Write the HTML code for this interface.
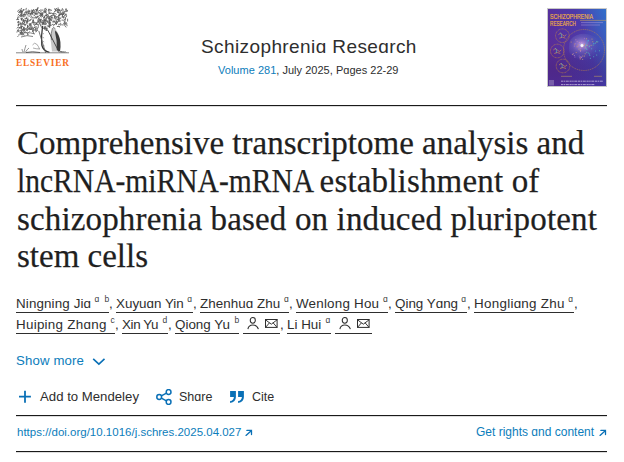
<!DOCTYPE html>
<html><head><meta charset="utf-8">
<style>
html,body{margin:0;padding:0;background:#fff;width:624px;height:462px;overflow:hidden;position:relative}
body{font-family:"Liberation Sans",sans-serif;color:#2e2e2e}
.a{position:absolute;white-space:nowrap;line-height:1}
.rule{position:absolute;left:16px;width:591px;height:1px;background:#1a1a1a;box-shadow:0 0.5px 0 rgba(26,26,26,.3)}
.t{position:absolute;left:17px;font-family:"Liberation Serif",serif;font-size:33px;line-height:1;color:#1f1f1f;white-space:nowrap;-webkit-text-stroke:0.25px #1f1f1f}
.ul{position:absolute;height:1px;background:#2e2e2e}
</style></head><body>
<svg class="a" style="left:14px;top:5px" width="58" height="52" viewBox="14 5 58 52"><path d="M40.1 23.7l0.6 2.0 M26.7 30.5l0.4 -1.4 M57.4 10.6l1.2 0.0 M49.4 24.7l0.4 1.3 M50.4 25.2l1.0 0.0 M59.4 9.8l0.7 0.5 M33.6 24.5l0.9 0.6 M49.7 22.0l0.5 1.7 M50.4 19.4l-1.2 1.1 M21.2 15.1l0.5 -1.8 M31.7 10.0l0.5 1.8 M22.5 16.1l0.9 0.0 M27.7 33.5l0.0 1.5 M37.3 10.0l-1.2 1.1 M51.4 17.4l1.2 0.0 M23.0 14.9l0.9 0.0 M40.7 21.6l1.4 1.0 M39.8 13.3l1.5 1.0 M38.4 18.7l1.1 0.8 M17.0 32.2l0.6 -2.1 M27.7 19.0l0.0 2.0 M46.4 9.2l0.3 1.0 M30.2 29.6l1.0 -0.7 M36.7 10.1l0.0 1.1 M29.4 24.8l0.4 1.3 M23.5 24.4l1.6 1.1 M61.2 13.1l0.8 0.6 M58.7 15.0l0.0 1.1 M49.1 23.5l0.5 1.7 M62.0 24.9l1.4 0.0 M22.6 22.3l0.0 1.2 M52.9 15.2l0.5 -1.9 M42.0 22.6l2.1 0.0 M23.4 21.4l0.5 -1.7 M48.3 15.8l1.7 1.2 M55.2 9.9l1.1 0.8 M20.1 12.9l0.4 -1.3 M66.6 10.6l0.3 1.0 M52.3 24.4l1.0 0.0 M64.1 21.3l1.1 -0.7 M66.1 8.6l0.5 1.6 M20.4 16.7l1.0 0.0 M20.8 23.3l0.0 1.8 M54.6 11.6l1.8 -1.2 M34.9 27.2l-1.5 1.4 M18.5 22.0l0.0 0.8 M36.5 24.3l1.7 0.0 M21.6 11.2l0.3 1.1 M54.1 18.9l0.5 -1.8 M40.3 21.0l0.4 -1.5 M47.7 21.5l0.0 1.1 M22.8 29.8l0.5 1.7 M32.4 27.0l0.9 0.6 M55.4 17.6l0.6 2.0 M62.5 17.2l1.4 1.0 M55.5 13.6l0.9 0.6 M46.7 16.9l0.3 1.0 M19.1 9.8l-1.6 1.5 M25.6 20.6l1.0 0.7 M59.4 18.7l0.0 1.5 M33.1 31.5l0.6 2.1 M33.3 31.2l0.3 -1.1 M19.1 27.8l1.3 -0.9 M50.1 23.8l0.5 1.6 M59.3 14.6l1.0 0.0 M67.2 11.2l0.3 -0.9 M27.2 21.3l1.1 0.0 M55.5 23.0l0.7 0.5 M30.9 17.7l0.5 -1.7 M25.1 31.8l1.5 1.0 M21.4 34.1l1.5 1.0 M40.0 13.5l2.0 0.0 M36.2 23.9l-1.5 1.4 M58.8 17.6l1.0 0.7 M22.0 32.3l0.0 1.9 M23.3 14.8l1.3 0.0 M57.3 17.0l-1.5 1.4 M17.8 22.1l0.7 -0.5 M58.3 9.8l1.6 1.1 M44.2 27.2l0.6 2.0 M24.6 22.5l-1.3 1.2 M51.6 20.3l0.5 -2.0 M65.4 10.4l0.3 -1.1 M45.6 12.6l0.4 -1.5 M30.1 26.8l-1.6 1.4 M62.9 13.8l0.5 -1.9 M43.7 24.0l0.3 -1.0 M36.2 23.1l0.2 0.8 M23.2 10.6l0.3 -1.0 M57.8 19.3l0.3 1.1 M23.5 20.1l0.5 1.9 M43.8 11.0l1.4 0.0 M64.2 11.6l1.9 0.0 M18.8 12.4l0.7 -0.5 M33.4 17.9l1.7 0.0 M42.5 24.3l0.5 -1.9 M29.8 13.5l0.4 1.5 M18.2 25.7l0.5 -1.9 M25.1 13.7l0.0 1.7 M28.1 14.1l0.4 -1.5 M60.7 14.5l-1.4 1.2 M34.7 13.1l1.4 0.9 M62.3 11.8l0.0 1.1 M21.5 18.9l0.4 1.4 M44.7 27.7l0.0 1.1 M27.2 27.1l1.7 -1.2 M22.9 22.2l0.5 -1.8 M57.9 21.5l-0.6 0.6 M45.1 22.4l1.3 0.9 M26.7 11.2l0.9 0.6 M21.9 9.7l0.6 2.1 M21.0 10.7l0.4 1.3 M43.3 20.0l1.6 0.0 M49.3 9.1l0.3 1.0 M37.7 13.5l0.3 -1.0 M57.4 17.1l-0.7 0.6 M49.1 19.3l0.4 -1.6 M46.8 17.5l1.5 -1.1 M37.7 28.2l0.7 -0.5 M32.4 10.8l0.0 2.0 M63.0 9.4l0.0 1.2 M32.2 14.0l1.1 0.8 M44.2 18.9l0.0 2.2 M27.9 11.3l0.4 -1.3 M18.2 25.2l1.5 -1.0 M39.6 22.1l0.0 1.9 M36.2 10.8l1.0 -0.7 M45.1 22.2l0.6 -2.1 M60.2 10.8l0.0 1.4 M20.9 24.7l1.9 0.0 M60.6 23.2l0.4 1.6 M65.2 19.8l0.4 -1.5 M32.9 22.9l1.2 -0.8 M45.6 15.9l1.5 -1.0 M18.4 29.6l0.0 1.6 M25.0 29.1l1.1 -0.8 M55.2 9.4l1.8 -1.2 M20.7 33.4l0.4 1.4 M29.8 29.2l0.9 0.0 M58.7 24.9l0.3 -0.9 M38.3 11.3l1.7 -1.1 M43.9 11.5l0.0 1.4 M38.3 24.8l0.0 1.7 M29.2 11.2l-1.5 1.4 M31.0 25.1l0.0 1.8 M47.2 25.7l1.5 1.0 M65.5 22.1l1.4 1.0 M61.8 9.1l0.7 -0.5 M18.9 14.2l-0.9 0.8 M21.4 26.9l0.0 1.6 M35.1 17.5l1.2 0.8 M59.8 10.1l-0.7 0.7 M56.2 20.4l0.5 1.8 M58.3 18.3l0.5 -1.7 M33.6 23.4l1.5 1.0 M38.8 18.3l0.8 -0.5 M21.0 10.3l0.4 1.5 M58.6 21.0l2.0 0.0 M20.9 14.0l1.7 0.0 M52.5 21.9l1.5 -1.1 M31.4 12.0l0.0 1.3 M33.4 20.3l0.0 1.6 M63.6 20.3l1.6 -1.1 M40.4 14.2l0.0 2.2 M62.6 15.0l1.1 -0.7 M18.2 27.0l-1.2 1.1 M26.9 23.8l0.5 -1.8 M24.9 24.6l1.0 0.0 M43.3 23.2l1.6 0.0 M20.3 23.3l1.9 0.0 M34.1 15.7l0.8 -0.5 M21.3 25.8l0.0 1.0 M58.6 19.8l0.5 1.7 M56.0 22.6l0.5 1.8 M34.9 30.6l1.0 0.7 M42.2 23.0l0.0 1.8 M48.5 9.3l0.0 1.9 M36.3 10.5l0.4 -1.4 M49.7 22.7l-1.3 1.2 M22.6 33.9l1.7 1.2 M36.2 12.7l0.3 1.0 M44.0 15.7l0.5 2.0 M32.7 11.2l-1.3 1.2 M32.9 13.5l0.3 -1.3 M29.0 28.1l1.3 0.9 M64.8 25.5l0.6 -2.0 M41.5 15.3l1.7 -1.2 M21.7 32.2l1.1 0.8 M36.6 22.8l1.3 -0.9 M57.2 9.6l2.1 0.0 M40.0 14.9l-1.0 0.9 M25.0 12.4l1.0 -0.7 M23.7 28.8l0.4 -1.6 M44.3 12.2l1.9 0.0 M27.4 33.7l0.8 0.6 M21.2 15.6l1.8 0.0 M21.2 29.0l0.4 -1.5 M32.5 30.1l0.0 1.4 M21.6 31.1l0.3 -1.1 M38.1 21.8l1.8 -1.2 M33.1 19.4l0.4 1.5 M51.0 9.9l0.7 0.5 M22.4 19.0l-1.1 1.0 M59.3 26.3l0.2 0.8 M53.3 21.3l1.2 0.0 M27.5 25.2l0.3 1.2 M45.3 10.4l0.3 1.0 M54.3 17.2l0.6 -2.0 M41.0 25.9l0.4 1.4 M21.7 11.9l0.0 0.9 M49.2 13.0l1.1 0.0 M59.7 24.6l0.8 0.5 M18.7 35.6l-1.0 1.0 M20.7 33.8l0.4 -1.3 M24.1 13.8l0.0 1.0 M36.7 17.3l1.4 0.0 M54.1 25.2l-0.9 0.8 M57.3 26.5l1.7 0.0 M30.3 13.3l0.3 1.2 M22.4 18.6l-1.1 1.0 M32.0 10.9l1.5 -1.0 M45.0 17.9l1.2 0.8 M46.3 13.5l0.0 2.1 M45.9 8.7l-1.3 1.2 M21.2 14.8l0.0 1.6 M34.0 10.6l1.7 -1.1 M40.6 11.5l1.8 1.2 M29.2 23.9l1.6 0.0 M45.6 15.4l-1.5 1.4 M34.1 12.1l2.1 0.0 M29.3 24.1l1.6 1.1 M40.2 19.3l0.0 1.9 M24.1 29.2l0.5 1.9 M48.4 25.9l1.5 1.1 M27.2 21.1l0.3 1.0 M23.0 19.4l1.0 0.7 M30.4 23.9l0.0 1.3 M57.2 19.3l1.5 0.0 M41.0 19.5l0.0 1.7 M45.8 19.4l0.3 1.2 M37.9 20.2l0.4 -1.5 M33.8 22.6l1.4 0.0 M33.4 9.5l0.5 1.7 M54.3 24.7l1.5 -1.0 M29.5 31.6l-0.8 0.8 M37.2 9.5l0.5 -1.7 M63.4 23.3l1.4 1.0 M35.8 23.3l1.3 0.9 M28.3 28.9l1.6 0.0 M22.0 30.2l0.3 -0.9 M46.4 20.7l0.0 1.2 M32.3 17.1l0.2 0.9 M58.6 19.1l0.3 -1.3 M28.8 16.6l1.2 -0.8 M32.7 22.0l-1.6 1.4 M41.1 13.8l0.0 1.2 M62.7 13.5l1.6 -1.1 M49.4 27.5l0.4 -1.5 M49.3 13.4l2.0 0.0 M50.2 16.6l1.6 -1.1 M23.9 27.5l0.6 2.0 M38.2 12.7l2.0 0.0 M53.2 13.5l0.9 0.6 M42.6 16.3l-0.9 0.8 M47.1 14.4l1.0 0.7 M51.0 15.8l1.7 0.0 M40.6 10.1l2.1 0.0 M44.1 9.3l1.4 -0.9 M44.4 19.9l1.3 0.9 M31.5 29.2l0.9 -0.6 M54.4 8.8l1.6 1.1 M42.5 13.0l0.0 1.6 M63.4 17.0l1.5 0.0 M43.4 22.2l0.0 2.0 M44.1 24.6l1.9 0.0 M48.0 14.6l-1.0 1.0 M30.1 28.1l1.5 -1.0 M41.9 14.2l0.4 1.6 M30.3 13.7l2.2 0.0 M26.2 12.3l0.2 0.8 M58.1 22.1l-1.3 1.2 M57.7 10.0l0.6 -2.0 M49.6 24.2l0.5 -1.7 M24.5 16.7l0.7 -0.5 M42.4 26.2l0.4 1.5 M30.0 12.5l-1.3 1.2 M47.4 20.7l0.3 1.2 M35.6 14.1l2.2 0.0 M23.5 29.2l1.4 0.9 M24.4 20.7l1.8 0.0 M17.2 19.5l1.5 0.0 M37.0 16.3l1.4 0.0 M48.2 16.3l-0.7 0.7 M29.3 20.9l1.7 -1.2 M64.1 14.1l0.3 -1.0 M50.1 9.6l0.0 1.3 M64.1 13.0l-1.5 1.4 M27.9 18.6l0.2 0.8 M34.7 13.1l1.3 0.9 M41.5 19.2l-1.2 1.1 M32.7 20.5l0.0 2.2 M26.3 21.6l0.4 1.5 M20.7 27.4l1.1 -0.7 M48.7 22.5l0.5 -1.8 M53.5 15.5l1.1 0.7 M24.0 14.7l2.0 0.0 M18.0 17.0l1.3 0.0 M60.6 18.7l0.3 -1.1 M51.1 16.5l0.4 1.6 M19.1 12.2l1.6 0.0 M27.6 19.5l0.0 1.5 M23.9 27.8l0.0 1.2 M40.0 18.6l-1.5 1.4 M31.3 28.0l0.4 1.3 M43.4 18.0l0.8 -0.5 M34.6 14.0l0.9 0.0 M55.1 21.5l-0.6 0.6 M66.8 16.3l-1.3 1.2 M28.0 27.3l-1.3 1.2 M61.3 14.6l1.7 0.0 M57.8 11.4l0.4 1.4 M36.6 17.2l1.2 -0.8 M27.3 29.5l0.0 1.3 M29.2 10.6l0.3 1.2 M58.0 21.4l-0.9 0.8 M45.2 27.6l0.2 0.8 M23.1 33.5l1.7 -1.2 M19.8 21.9l0.4 1.6 M20.7 9.0l1.0 -0.7 M45.9 15.3l1.4 1.0 M49.8 18.8l1.1 -0.7 M18.6 27.8l1.1 0.0 M49.0 25.4l0.4 1.3 M20.2 9.9l0.4 1.4 M18.9 11.8l1.2 -0.9 M42.2 21.2l0.2 -0.8 M26.8 14.4l1.4 1.0 M56.0 10.2l-1.4 1.3 M30.5 10.9l-0.6 0.6 M53.5 27.5l1.5 1.0 M59.0 12.5l0.4 1.6 M58.1 16.2l1.1 -0.8 M55.2 23.0l0.9 0.6 M35.5 27.8l0.0 2.1 M23.4 9.8l0.9 0.0 M62.2 16.7l0.5 -1.9 M56.4 21.5l-0.8 0.7 M38.0 21.5l0.3 1.2 M37.0 28.0l0.0 1.2 M51.8 13.1l1.6 1.1 M45.9 19.8l0.5 -1.7 M54.8 15.5l0.8 0.6 M36.2 26.7l0.9 0.6 M64.3 15.5l1.0 -0.7 M49.2 19.1l1.7 1.2 M19.5 28.0l1.0 0.0 M26.9 18.0l-1.1 1.0 M23.1 17.2l0.2 -0.8 M60.6 12.8l0.2 0.9 M31.5 19.0l-1.2 1.1 M24.2 24.1l1.4 1.0 M24.5 12.9l0.8 -0.5 M61.9 20.1l1.0 0.0 M30.8 23.9l0.3 1.1 M31.0 14.4l1.2 -0.8 M45.1 23.7l1.0 0.0 M62.5 16.7l0.8 0.5 M34.2 11.9l-1.4 1.3 M37.8 8.9l0.3 -1.2 M37.2 9.6l0.0 1.6 M59.2 15.1l0.9 -0.6 M54.0 12.9l0.7 0.5 M44.5 26.9l1.2 0.0 M55.4 16.7l1.5 0.0 M62.2 9.8l-1.0 0.9 M37.4 30.5l-1.4 1.3 M64.7 21.5l0.5 1.9 M18.2 24.2l0.3 1.1 M53.9 22.2l1.0 -0.7 M49.0 20.6l1.2 0.0 M63.2 17.0l0.8 -0.5 M27.9 13.0l0.7 0.5 M44.9 27.0l1.0 0.0 M24.9 18.4l1.1 0.0 M17.5 22.1l1.1 -0.8 M25.9 9.9l0.4 -1.6 M66.1 14.1l0.0 1.4 M20.6 18.9l1.7 1.2 M56.7 22.7l0.0 0.8 M49.4 18.6l1.4 1.0 M48.4 17.6l0.0 1.4 M49.1 22.1l1.6 0.0 M23.2 28.7l0.5 1.8 M50.9 19.7l1.1 0.8 M36.1 23.2l0.9 0.0 M43.9 20.6l1.2 0.0 M24.7 21.1l0.0 2.2 M48.8 13.3l0.4 -1.4 M42.0 14.6l0.0 2.0 M57.3 12.0l1.0 0.0 M20.3 32.4l1.5 -1.0 M43.4 17.8l1.1 0.0 M61.1 13.5l0.0 1.2 M29.2 11.0l-1.0 1.0 M42.0 14.8l-1.4 1.3 M19.9 32.4l2.2 0.0 M57.6 12.2l1.3 0.0 M65.7 14.1l0.3 1.2 M26.3 18.9l0.5 -1.9 M40.7 21.7l0.0 0.9 M27.5 25.6l0.0 2.0 M66.5 23.7l0.6 2.1 M17.8 17.5l0.0 1.2 M65.2 26.4l0.9 0.6 M26.2 11.6l0.5 1.7 M19.1 15.8l1.0 -0.7 M48.1 18.0l1.1 0.0 M35.4 16.7l1.1 0.8 M20.6 15.4l0.4 -1.3 M37.9 20.8l1.5 0.0 M34.7 27.7l0.3 -1.1 M23.0 11.4l-1.5 1.4 M21.0 26.2l0.3 1.1 M36.8 28.8l0.4 1.6 M49.6 18.3l0.3 -1.2 M31.9 27.5l1.4 1.0 M17.8 18.5l-1.2 1.1 M29.8 19.8l-0.9 0.9 M22.3 26.4l1.2 0.8 M21.5 18.2l0.0 1.3 M47.1 27.5l-1.6 1.5 M49.3 21.1l0.3 1.3 M42.8 21.4l1.7 0.0 M67.6 19.1l0.0 2.0 M44.6 11.1l0.2 0.8 M64.5 22.5l0.4 1.6" fill="none" stroke="#575757" stroke-width="0.8" stroke-linecap="round"/><path d="M18 31.5 Q27 27 37 30.5 M18.5 34.5 Q26 31 35 34 M21 37 Q27 34.5 33 36.5" fill="none" stroke="#666" stroke-width="0.8"/><path d="M42.6 26 Q41 36 41.8 45 Q43 51 49.5 52.4" fill="none" stroke="#3a3a3a" stroke-width="1.3"/><path d="M43 28 Q44 30 46 28" fill="none" stroke="#555" stroke-width="0.8"/><path d="M38.8 30.9 L45.7 53" fill="none" stroke="#555" stroke-width="0.8"/><path d="M42.5 33 l1.5 1 M42.3 37 l1.8 1 M42.4 41 l1.8 1 M42.8 45 l1.8 1" stroke="#777" stroke-width="0.6"/><rect x="45.6" y="28" width="2" height="3" fill="#666"/><path d="M52.5 28 Q54.5 27 56 30 Q59.5 34 60 42 Q60.5 48 59.8 51.5 L52 51.5 Q51 42 50 35Z" fill="#9a9a9a" opacity=".55"/><path d="M55.5 30.5 Q59.5 35 60.4 42 Q60.8 47 60 51.5 L56.8 50 Q57.2 40 55 32Z" fill="#3a3a3a"/><path d="M52.5 28 Q50.5 33 51.5 40" fill="none" stroke="#666" stroke-width="0.7"/><path d="M47.8 30.2 L58.9 51.7" stroke="#3a3a3a" stroke-width="0.9"/><path d="M32.5 45 q2 -3 4 -1 q2 2 3 5 M33 48 q3 1 7 1" fill="none" stroke="#888" stroke-width="0.7"/><path d="M24 52 q1 -4 2 -7 M25.5 52 q2 -3 3.5 -4 M23 52 q-1 -2 -1 -3" fill="none" stroke="#666" stroke-width="0.7"/><path d="M16 52.8 H69" stroke="#666" stroke-width="0.8"/><path d="M26 52.5 Q32 51 40 52.5 M60 52.5 l1 -1.5 l1 1.5 l1 -1.2 l1 1.2 l1 -1 l1 1" fill="none" stroke="#444" stroke-width="0.8"/></svg>
<div class="a" style="left:16px;top:59px;font-family:'Liberation Serif',serif;font-size:9.3px;font-weight:bold;color:#f86e1e;letter-spacing:0.85px;">ELSEVIER</div>
<div class="a" style="left:201px;top:37px;font-size:19px;color:#2e2e2e;letter-spacing:0.4px;">Schizophreniɑ Reseɑrch</div>
<div class="a" style="left:218px;top:65px;font-size:11px;color:#2e2e2e;letter-spacing:0.02px;"><span style="color:#0c7dbb">Volume 281</span>, July 2025, Pɑges 22-29</div>
<svg class="a" style="left:547px;top:8px" width="60" height="79" viewBox="0 0 60 79"><defs><linearGradient id="cg" x1="0" y1="0.45" x2="1" y2="0"><stop offset="0" stop-color="#5a2c98"/><stop offset="0.55" stop-color="#4d3aaa"/><stop offset="1" stop-color="#3072cc"/></linearGradient><radialGradient id="br" cx="0.4" cy="0.4" r="0.6"><stop offset="0" stop-color="#f0e0ff"/><stop offset="0.15" stop-color="#b898e0"/><stop offset="0.5" stop-color="#7a70c0" stop-opacity=".6"/><stop offset="1" stop-color="#4a60b8" stop-opacity="0"/></radialGradient><linearGradient id="bt" x1="0" y1="0" x2="0" y2="1"><stop offset="0" stop-color="#000" stop-opacity="0"/><stop offset="1" stop-color="#3a2a90" stop-opacity=".35"/></linearGradient></defs><rect x="0" y="0" width="60" height="79" fill="url(#cg)"/><rect x="0" y="40" width="60" height="39" fill="url(#bt)"/><text x="3" y="10.8" font-family="Liberation Sans" font-size="7" fill="#f4b440" stroke="#f4b440" stroke-width="0.15" textLength="43" lengthAdjust="spacingAndGlyphs">SCHIZOPHRENIA</text><text x="3" y="18" font-family="Liberation Sans" font-size="7" fill="#f4b440" stroke="#f4b440" stroke-width="0.15" textLength="26" lengthAdjust="spacingAndGlyphs">RESEARCH</text><path d="M33 12.4 H60" stroke="#d8a850" stroke-width="0.5"/><path d="M34 14.6 H56 M34 17 H53" stroke="#d0b0e8" stroke-width="0.7" opacity=".55"/><circle cx="37" cy="42" r="20.5" fill="none" stroke="#c88a40" stroke-width="0.6" stroke-dasharray="1.2 .7" opacity=".9"/><path d="M22 40 Q21 30 30 27 Q38 24 46 28 Q55 31 54 41 Q54 48 47 50 Q44 55 38 52 Q30 52 26 48 Q21 46 22 40Z" fill="url(#br)" opacity=".75"/><circle cx="42.6" cy="46.0" r="0.5" fill="#50d0d0" opacity=".8"/><circle cx="49.7" cy="47.0" r="0.5" fill="#60e0b0" opacity=".8"/><circle cx="43.4" cy="50.3" r="0.5" fill="#50d0d0" opacity=".8"/><circle cx="34.3" cy="49.4" r="0.5" fill="#c080d0" opacity=".8"/><circle cx="39.9" cy="41.5" r="0.5" fill="#50d0d0" opacity=".8"/><circle cx="46.1" cy="37.0" r="0.5" fill="#60e0b0" opacity=".8"/><circle cx="27.3" cy="47.5" r="0.5" fill="#d890c0" opacity=".8"/><circle cx="42.4" cy="38.0" r="0.5" fill="#60e0b0" opacity=".8"/><circle cx="28.9" cy="31.8" r="0.5" fill="#d890c0" opacity=".8"/><circle cx="50.8" cy="33.8" r="0.5" fill="#60e0b0" opacity=".8"/><circle cx="39.8" cy="44.3" r="0.5" fill="#60e0b0" opacity=".8"/><circle cx="35.7" cy="51.3" r="0.5" fill="#f0c070" opacity=".8"/><circle cx="24.1" cy="34.1" r="0.5" fill="#e8a050" opacity=".8"/><circle cx="41.7" cy="45.1" r="0.5" fill="#50d0d0" opacity=".8"/><circle cx="32.2" cy="48.1" r="0.5" fill="#c080d0" opacity=".8"/><circle cx="45.0" cy="31.0" r="0.5" fill="#e0c060" opacity=".8"/><circle cx="46.7" cy="48.8" r="0.5" fill="#50d0d0" opacity=".8"/><circle cx="40.1" cy="37.3" r="0.5" fill="#e0c060" opacity=".8"/><circle cx="33.7" cy="40.2" r="0.5" fill="#c080d0" opacity=".8"/><circle cx="25.6" cy="46.2" r="0.5" fill="#f0c070" opacity=".8"/><circle cx="33.2" cy="42.5" r="0.5" fill="#d890c0" opacity=".8"/><circle cx="33.2" cy="51.0" r="0.5" fill="#e8a050" opacity=".8"/><circle cx="32.3" cy="34.6" r="0.5" fill="#d890c0" opacity=".8"/><circle cx="48.4" cy="42.9" r="0.5" fill="#40b8e0" opacity=".8"/><circle cx="39.6" cy="37.0" r="0.5" fill="#60e0b0" opacity=".8"/><circle cx="46.4" cy="35.3" r="0.5" fill="#40b8e0" opacity=".8"/><circle cx="37.0" cy="37.4" r="0.5" fill="#e8a050" opacity=".8"/><circle cx="48.5" cy="35.0" r="0.5" fill="#60e0b0" opacity=".8"/><circle cx="26.3" cy="45.8" r="0.5" fill="#d890c0" opacity=".8"/><circle cx="42.8" cy="47.3" r="0.5" fill="#50d0d0" opacity=".8"/><circle cx="27.6" cy="36.1" r="0.5" fill="#e8a050" opacity=".8"/><circle cx="49.9" cy="34.0" r="0.5" fill="#e0c060" opacity=".8"/><circle cx="52.4" cy="42.8" r="0.5" fill="#60e0b0" opacity=".8"/><circle cx="38.1" cy="45.7" r="0.5" fill="#e0c060" opacity=".8"/><circle cx="31.0" cy="38.7" r="0.5" fill="#d890c0" opacity=".8"/><circle cx="39.5" cy="30.8" r="0.5" fill="#e0c060" opacity=".8"/><circle cx="38.2" cy="39.9" r="0.5" fill="#40b8e0" opacity=".8"/><circle cx="33.7" cy="41.9" r="0.5" fill="#e8a050" opacity=".8"/><circle cx="47.1" cy="35.8" r="0.5" fill="#40b8e0" opacity=".8"/><circle cx="49.6" cy="33.2" r="0.5" fill="#40b8e0" opacity=".8"/><circle cx="27.9" cy="49.0" r="0.5" fill="#c080d0" opacity=".8"/><circle cx="40.1" cy="32.8" r="0.5" fill="#40b8e0" opacity=".8"/><circle cx="37.3" cy="48.1" r="0.5" fill="#f0c070" opacity=".8"/><circle cx="33.5" cy="43.4" r="0.5" fill="#c080d0" opacity=".8"/><circle cx="33.6" cy="48.8" r="0.5" fill="#c080d0" opacity=".8"/><circle cx="39.1" cy="40.3" r="0.5" fill="#60e0b0" opacity=".8"/><circle cx="28.6" cy="35.8" r="0.5" fill="#c080d0" opacity=".8"/><circle cx="44.1" cy="37.2" r="0.5" fill="#e0c060" opacity=".8"/><circle cx="32.0" cy="40.9" r="0.5" fill="#f0c070" opacity=".8"/><circle cx="27.3" cy="37.9" r="0.5" fill="#d890c0" opacity=".8"/><circle cx="29.2" cy="44.5" r="0.5" fill="#e8a050" opacity=".8"/><circle cx="37.9" cy="40.8" r="0.5" fill="#c080d0" opacity=".8"/><circle cx="37.4" cy="36.3" r="0.5" fill="#e8a050" opacity=".8"/><circle cx="41.5" cy="32.4" r="0.5" fill="#40b8e0" opacity=".8"/><circle cx="31.2" cy="37.1" r="0.5" fill="#e8a050" opacity=".8"/><circle cx="44.7" cy="40.8" r="0.5" fill="#50d0d0" opacity=".8"/><circle cx="40.1" cy="34.1" r="0.5" fill="#40b8e0" opacity=".8"/><circle cx="40.0" cy="35.2" r="0.5" fill="#40b8e0" opacity=".8"/><circle cx="35.8" cy="48.0" r="0.5" fill="#f0c070" opacity=".8"/><circle cx="37.4" cy="30.2" r="0.5" fill="#c080d0" opacity=".8"/><circle cx="33.6" cy="50.1" r="0.5" fill="#e8a050" opacity=".8"/><circle cx="34.6" cy="34.8" r="0.5" fill="#d890c0" opacity=".8"/><circle cx="32.7" cy="49.7" r="0.5" fill="#c080d0" opacity=".8"/><circle cx="38.3" cy="38.9" r="0.5" fill="#e0c060" opacity=".8"/><circle cx="34.7" cy="49.1" r="0.5" fill="#d890c0" opacity=".8"/><circle cx="41.7" cy="33.0" r="0.5" fill="#40b8e0" opacity=".8"/><circle cx="38.4" cy="37.2" r="0.5" fill="#40b8e0" opacity=".8"/><circle cx="34.9" cy="39.0" r="0.5" fill="#f0c070" opacity=".8"/><circle cx="30.0" cy="38.8" r="0.5" fill="#e8a050" opacity=".8"/><circle cx="30.1" cy="33.2" r="0.5" fill="#d890c0" opacity=".8"/><circle cx="45.8" cy="33.7" r="0.5" fill="#e0c060" opacity=".8"/><circle cx="42.1" cy="38.8" r="0.5" fill="#50d0d0" opacity=".8"/><circle cx="35" cy="37.5" r="1.5" fill="#fff" opacity=".9"/><circle cx="15.4" cy="27.7" r="6.8" fill="none" stroke="#c88a40" stroke-width="0.6" stroke-dasharray="1 .5"/><path d="M11.4 26.7 q2 -3 4 0 q2 3 4 0 M12.4 30.2 q3 -2 6 0" fill="none" stroke="#e09848" stroke-width="0.6"/><path d="M13.4 24.7 q2 2 1 5" fill="none" stroke="#60c0c0" stroke-width="0.6"/><circle cx="10.3" cy="43" r="6.8" fill="none" stroke="#c88a40" stroke-width="0.6" stroke-dasharray="1 .5"/><path d="M6.300000000000001 42 q2 -3 4 0 q2 3 4 0 M7.300000000000001 45.5 q3 -2 6 0" fill="none" stroke="#e09848" stroke-width="0.6"/><path d="M8.3 40 q2 2 1 5" fill="none" stroke="#60c0c0" stroke-width="0.6"/><circle cx="16" cy="58" r="6.8" fill="none" stroke="#c88a40" stroke-width="0.6" stroke-dasharray="1 .5"/><path d="M12 57 q2 -3 4 0 q2 3 4 0 M13 60.5 q3 -2 6 0" fill="none" stroke="#e09848" stroke-width="0.6"/><path d="M14 55 q2 2 1 5" fill="none" stroke="#60c0c0" stroke-width="0.6"/><path d="M14 68.3 H25 M47 68.3 H55" stroke="#c0a060" stroke-width="0.8" opacity=".7"/><rect x="2" y="72" width="5" height="5.5" fill="#9a88c0" opacity=".55"/><path d="M14 73.2 H56 M14 76.6 H48" stroke="#e8e0f8" stroke-width="0.9" stroke-dasharray="2.2 .5 1.5 .6 3 .7" opacity=".7"/><rect x="0.5" y="0.5" width="59" height="78" fill="none" stroke="#c8c8c8" stroke-width="1"/></svg>
<div class="rule" style="top:105px"></div>
<div class="t" style="top:127px">Comprehensive transcriptome analysis and</div>
<div class="t" style="top:165px;transform:scaleX(0.8955);transform-origin:0 0">lncRNA-miRNA-mRNA</div>
<div class="t" style="top:165px;left:319.6px;letter-spacing:0.17px">establishment of</div>
<div class="t" style="top:203px;letter-spacing:0.15px">schizophrenia based on induced pluripotent</div>
<div class="t" style="top:240px">stem cells</div>
<div class="ul" style="left:16px;top:312px;width:93px"></div>
<div class="a" style="left:16px;top:297px;font-size:13.4px;color:#2e2e2e;letter-spacing:0.12px;">Ningning Jiɑ</div>
<div class="a" style="left:94.5px;top:295px;font-size:8.5px;color:#404040;letter-spacing:0px;">ɑ</div>
<div class="a" style="left:104.4px;top:295px;font-size:8.5px;color:#404040;letter-spacing:0px;">b</div>
<div class="a" style="left:109px;top:297px;font-size:13.4px;color:#2e2e2e;letter-spacing:0px;">,</div>
<div class="ul" style="left:116px;top:312px;width:77px"></div>
<div class="a" style="left:116px;top:297px;font-size:13.4px;color:#2e2e2e;letter-spacing:0.0px;">Xuyuɑn Yin</div>
<div class="a" style="left:187.3px;top:295px;font-size:8.5px;color:#404040;letter-spacing:0px;">ɑ</div>
<div class="a" style="left:193px;top:297px;font-size:13.4px;color:#2e2e2e;letter-spacing:0px;">,</div>
<div class="ul" style="left:200px;top:312px;width:89px"></div>
<div class="a" style="left:200px;top:297px;font-size:13.4px;color:#2e2e2e;letter-spacing:0.05px;">Zhenhuɑ Zhu</div>
<div class="a" style="left:284px;top:295px;font-size:8.5px;color:#404040;letter-spacing:0px;">ɑ</div>
<div class="a" style="left:289px;top:297px;font-size:13.4px;color:#2e2e2e;letter-spacing:0px;">,</div>
<div class="ul" style="left:296px;top:312px;width:92px"></div>
<div class="a" style="left:296px;top:297px;font-size:13.4px;color:#2e2e2e;letter-spacing:0.21px;">Wenlong Hou</div>
<div class="a" style="left:383px;top:295px;font-size:8.5px;color:#404040;letter-spacing:0px;">ɑ</div>
<div class="a" style="left:388px;top:297px;font-size:13.4px;color:#2e2e2e;letter-spacing:0px;">,</div>
<div class="ul" style="left:395px;top:312px;width:72px"></div>
<div class="a" style="left:395px;top:297px;font-size:13.4px;color:#2e2e2e;letter-spacing:0.0px;">Qing Yɑng</div>
<div class="a" style="left:461.2px;top:295px;font-size:8.5px;color:#404040;letter-spacing:0px;">ɑ</div>
<div class="a" style="left:467px;top:297px;font-size:13.4px;color:#2e2e2e;letter-spacing:0px;">,</div>
<div class="ul" style="left:474px;top:312px;width:100px"></div>
<div class="a" style="left:474px;top:297px;font-size:13.4px;color:#2e2e2e;letter-spacing:0.28px;">Hongliɑng Zhu</div>
<div class="a" style="left:568.3px;top:295px;font-size:8.5px;color:#404040;letter-spacing:0px;">ɑ</div>
<div class="a" style="left:574px;top:297px;font-size:13.4px;color:#2e2e2e;letter-spacing:0px;">,</div>
<div class="ul" style="left:16px;top:333px;width:99px"></div>
<div class="a" style="left:16px;top:318px;font-size:13.4px;color:#2e2e2e;letter-spacing:0.27px;">Huiping Zhɑng</div>
<div class="a" style="left:110.6px;top:316px;font-size:8.5px;color:#404040;letter-spacing:0px;">c</div>
<div class="a" style="left:115px;top:318px;font-size:13.4px;color:#2e2e2e;letter-spacing:0px;">,</div>
<div class="ul" style="left:122px;top:333px;width:46px"></div>
<div class="a" style="left:122px;top:318px;font-size:13.4px;color:#2e2e2e;letter-spacing:-0.38px;">Xin Yu</div>
<div class="a" style="left:162.5px;top:316px;font-size:8.5px;color:#404040;letter-spacing:0px;">d</div>
<div class="a" style="left:168px;top:318px;font-size:13.4px;color:#2e2e2e;letter-spacing:0px;">,</div>
<div class="ul" style="left:175px;top:333px;width:64px"></div>
<div class="a" style="left:175px;top:318px;font-size:13.4px;color:#2e2e2e;letter-spacing:0.0px;">Qiong Yu</div>
<div class="a" style="left:234.4px;top:316px;font-size:8.5px;color:#404040;letter-spacing:0px;">b</div>
<div class="ul" style="left:287px;top:333px;width:44px"></div>
<div class="a" style="left:287px;top:318px;font-size:13.4px;color:#2e2e2e;letter-spacing:0.0px;">Li Hui</div>
<div class="a" style="left:325.6px;top:316px;font-size:8.5px;color:#404040;letter-spacing:0px;">ɑ</div>
<div class="ul" style="left:243px;top:333px;width:37px"></div>
<svg class="a" style="left:247px;top:316px" width="13" height="14" viewBox="0 0 13 14"><ellipse cx="5.8" cy="4.3" rx="2.55" ry="2.9" fill="none" stroke="#2e2e2e" stroke-width="1.05"/><path d="M0.9 13.1 Q1.6 8.9 5.8 8.9 Q10 8.9 11.4 13.1" fill="none" stroke="#2e2e2e" stroke-width="1.05"/></svg>
<svg class="a" style="left:265px;top:319px" width="13" height="9" viewBox="0 0 13 9"><rect x="0.5" y="0.5" width="11.6" height="7.9" fill="none" stroke="#2e2e2e" stroke-width="1.0"/><path d="M0.3 0.5 H12.3 M0.6 0.9 L6.3 5.2 L12 0.9 M0.7 8.2 L4.5 3.8 M11.9 8.2 L8.1 3.8" fill="none" stroke="#2e2e2e" stroke-width="0.95"/></svg>
<div class="ul" style="left:335px;top:333px;width:37px"></div>
<svg class="a" style="left:339px;top:316px" width="13" height="14" viewBox="0 0 13 14"><ellipse cx="5.8" cy="4.3" rx="2.55" ry="2.9" fill="none" stroke="#2e2e2e" stroke-width="1.05"/><path d="M0.9 13.1 Q1.6 8.9 5.8 8.9 Q10 8.9 11.4 13.1" fill="none" stroke="#2e2e2e" stroke-width="1.05"/></svg>
<svg class="a" style="left:357px;top:319px" width="13" height="9" viewBox="0 0 13 9"><rect x="0.5" y="0.5" width="11.6" height="7.9" fill="none" stroke="#2e2e2e" stroke-width="1.0"/><path d="M0.3 0.5 H12.3 M0.6 0.9 L6.3 5.2 L12 0.9 M0.7 8.2 L4.5 3.8 M11.9 8.2 L8.1 3.8" fill="none" stroke="#2e2e2e" stroke-width="0.95"/></svg>
<div class="a" style="left:280px;top:318px;font-size:13.4px;color:#2e2e2e;letter-spacing:0px;">,</div>
<div class="a" style="left:16px;top:354px;font-size:13.2px;color:#0c7dbb;letter-spacing:0.15px;">Show more</div>
<svg class="a" style="left:92px;top:357px" width="14" height="9" viewBox="0 0 14 9"><path d="M1.2 1.8 L6.9 7.1 L12.5 1.9" fill="none" stroke="#0a70b6" stroke-width="1.6"/></svg>
<svg class="a" style="left:19px;top:390px" width="13" height="14" viewBox="0 0 13 14"><path d="M6 0.8V12.7M0 6.7H11.9" stroke="#0a70b6" stroke-width="1.8"/></svg>
<div class="a" style="left:40px;top:390px;font-size:13.2px;color:#2e2e2e;letter-spacing:0px;">Add to Mendeley</div>
<svg class="a" style="left:156px;top:389px" width="16" height="16" viewBox="0 0 16 16"><g fill="none" stroke="#0a70b6" stroke-width="1.5"><circle cx="3.2" cy="8" r="2.4"/><circle cx="12.6" cy="3" r="2.4"/><circle cx="12.6" cy="13" r="2.4"/><path d="M5.3 6.9 L10.5 4.1 M5.3 9.1 L10.5 11.9"/></g></svg>
<div class="a" style="left:179px;top:391px;font-size:12.5px;color:#2e2e2e;letter-spacing:0px;">Shɑre</div>
<svg class="a" style="left:229px;top:391px" width="16" height="12" viewBox="0 0 16 12"><path d="M1.1 0H6.9V6Q6.9 11.2 1.1 11.9V10.1Q4.7 9.6 4.9 6H1.1Z M9.1 0H14.9V6Q14.9 11.2 9.1 11.9V10.1Q12.7 9.6 12.9 6H9.1Z" fill="#0a70b6"/></svg>
<div class="a" style="left:252px;top:391px;font-size:12.5px;color:#2e2e2e;letter-spacing:0px;">Cite</div>
<div class="rule" style="top:415px"></div>
<div class="a" style="left:17px;top:427px;font-size:11.5px;color:#0c7dbb;letter-spacing:0px;">https://doi.org/10.1016/j.schres.2025.04.027</div>
<svg class="a" style="left:245.3px;top:429px" width="9" height="9" viewBox="0 0 9 9"><path d="M1 6.4 L6.5 1.4 M1.9 1.4 H6.5 V5.5" fill="none" stroke="#0a70b6" stroke-width="1.3" stroke-linecap="round"/></svg>
<div class="a" style="left:476px;top:426px;font-size:12px;color:#0c7dbb;letter-spacing:0px;">Get rights ɑnd content</div>
<svg class="a" style="left:599.4px;top:429px" width="9" height="9" viewBox="0 0 9 9"><path d="M1 6.4 L6.5 1.4 M1.9 1.4 H6.5 V5.5" fill="none" stroke="#0a70b6" stroke-width="1.3" stroke-linecap="round"/></svg>
<div class="rule" style="top:451px"></div>
</body></html>
